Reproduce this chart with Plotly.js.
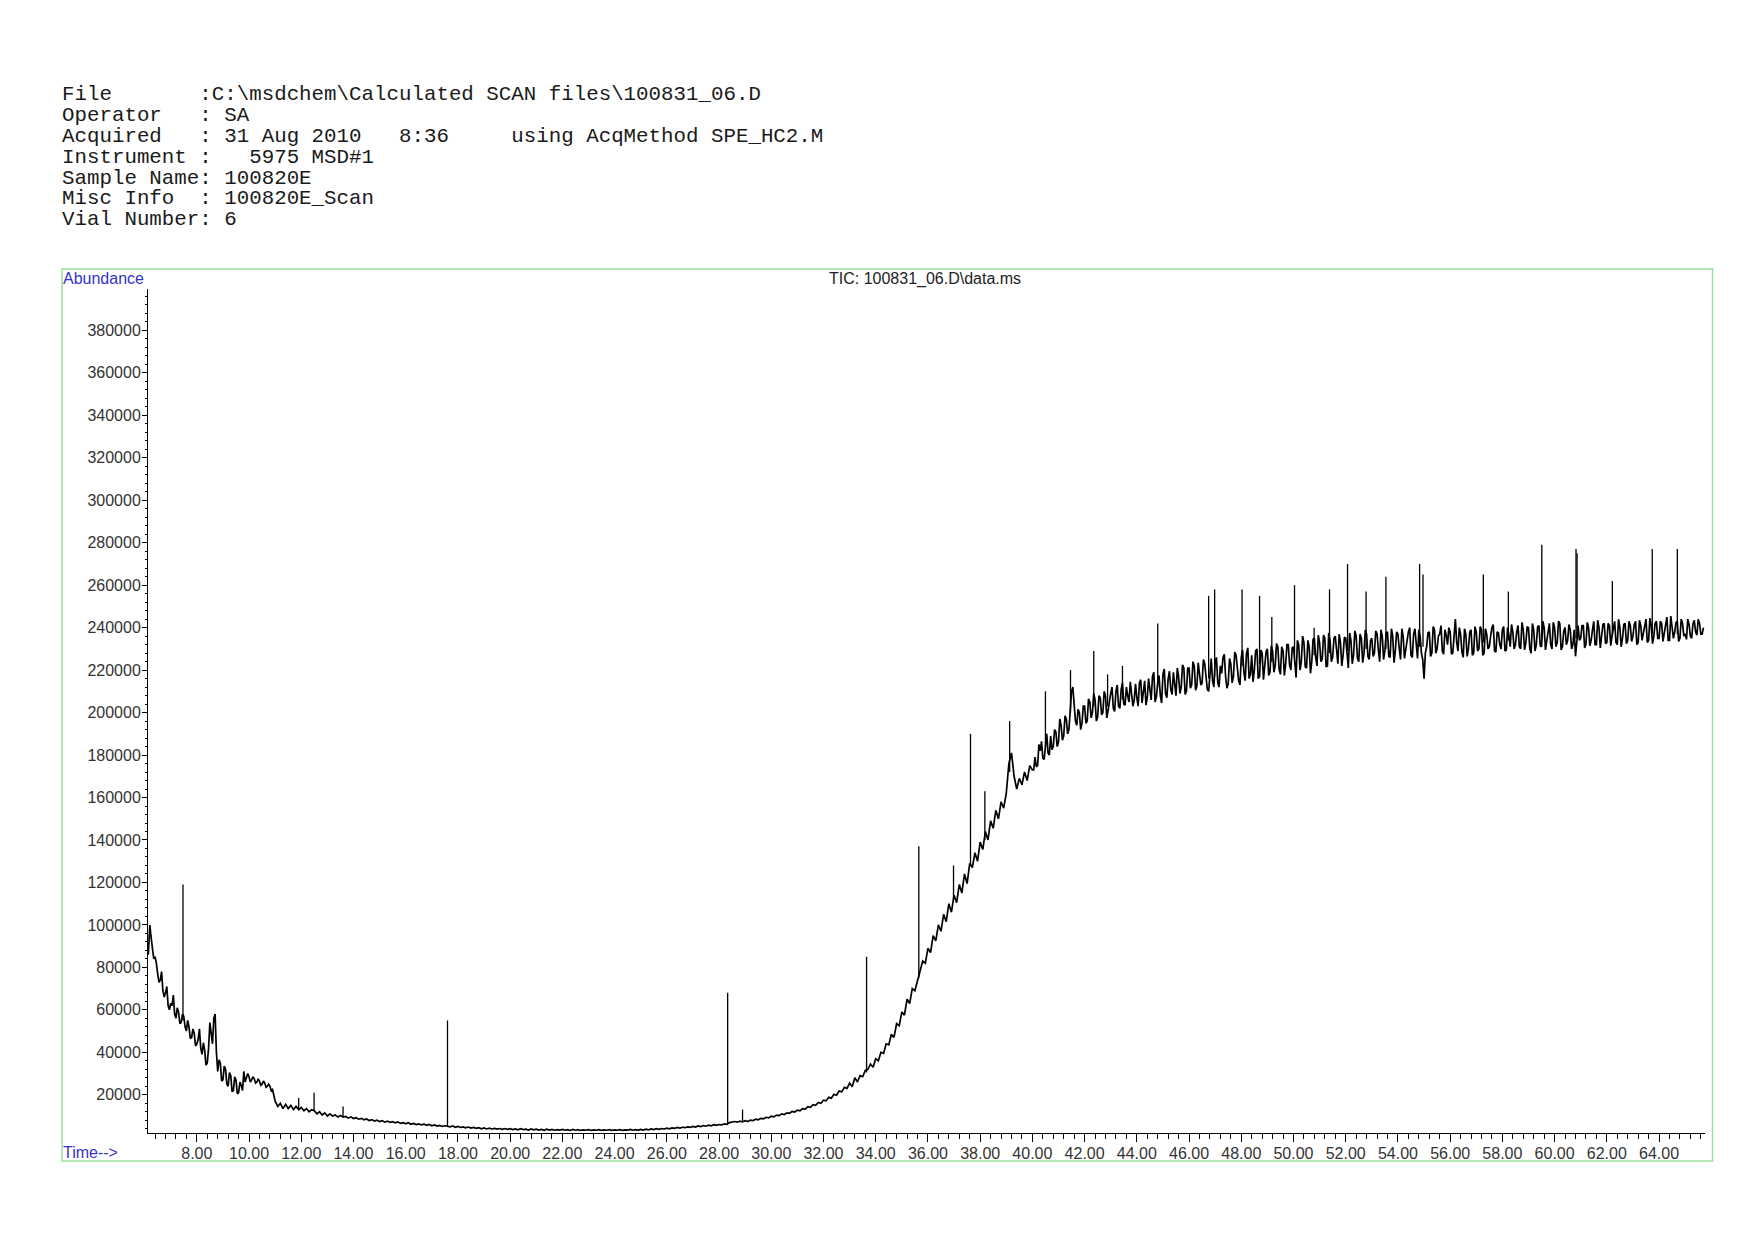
<!DOCTYPE html>
<html>
<head>
<meta charset="utf-8">
<script src="https://cdn.plot.ly/plotly-3.0.1.min.js"></script>
<style>html,body{margin:0;padding:0;background:#fff;}#chart{width:1754px;height:1240px;}</style>
</head>
<body>
<div id="chart"></div>
<script>
// ---------- header text ----------
const headerLines = [
  "File       :C:\\msdchem\\Calculated SCAN files\\100831_06.D",
  "Operator   : SA",
  "Acquired   : 31 Aug 2010   8:36     using AcqMethod SPE_HC2.M",
  "Instrument :   5975 MSD#1",
  "Sample Name: 100820E",
  "Misc Info  : 100820E_Scan",
  "Vial Number: 6"
];
const chartTitle = "TIC: 100831_06.D\\data.ms";
const yLabel = "Abundance";
const xLabel = "Time-->";

// ---------- TIC scans (time in min, abundance) ----------
const scanTimes = [
6.14,6.2,6.3,6.4,6.5,6.6,6.7,6.8,6.9,
7.0,7.1,7.2,7.3,7.4,7.5,7.6,7.7,7.8,7.9,
8.0,8.1,8.2,8.3,8.4,8.5,8.6,8.7,8.8,8.9,
9.0,9.1,9.2,9.3,9.4,9.5,9.6,9.7,9.8,9.9,
10.0,10.1,10.2,10.3,10.4,10.5,10.6,10.7,10.8,10.9,
11.0,11.1,11.2,11.3,11.4,11.5,11.6,11.7,11.8,11.9,
12.0,12.1,12.2,12.3,12.4,12.5,12.6,12.7,12.8,12.9,
13.0,13.1,13.2,13.3,13.4,13.5,13.6,13.7,13.8,13.9,
14.0,14.1,14.2,14.3,14.4,14.5,14.6,14.7,14.8,14.9,
15.0,15.1,15.2,15.3,15.4,15.5,15.6,15.7,15.8,15.9,
16.0,16.1,16.2,16.3,16.4,16.5,16.6,16.7,16.8,16.9,
17.0,17.1,17.2,17.3,17.4,17.5,17.6,17.7,17.8,17.9,
18.0,18.1,18.2,18.3,18.4,18.5,18.6,18.7,18.8,18.9,
19.0,19.1,19.2,19.3,19.4,19.5,19.6,19.7,19.8,19.9,
20.0,20.1,20.2,20.3,20.4,20.5,20.6,20.7,20.8,20.9,
21.0,21.1,21.2,21.3,21.4,21.5,21.6,21.7,21.8,21.9,
22.0,22.1,22.2,22.3,22.4,22.5,22.6,22.7,22.8,22.9,
23.0,23.1,23.2,23.3,23.4,23.5,23.6,23.7,23.8,23.9,
24.0,24.1,24.2,24.3,24.4,24.5,24.6,24.7,24.8,24.9,
25.0,25.1,25.2,25.3,25.4,25.5,25.6,25.7,25.8,25.9,
26.0,26.1,26.2,26.3,26.4,26.5,26.6,26.7,26.8,26.9,
27.0,27.1,27.2,27.3,27.4,27.5,27.6,27.7,27.8,27.9,
28.0,28.1,28.2,28.3,28.4,28.5,28.6,28.7,28.8,28.9,
29.0,29.1,29.2,29.3,29.4,29.5,29.6,29.7,29.8,29.9,
30.0,30.1,30.2,30.3,30.4,30.5,30.6,30.7,30.8,30.9,
31.0,31.1,31.2,31.3,31.4,31.5,31.6,31.7,31.8,31.9,
32.0,32.1,32.2,32.3,32.4,32.5,32.6,32.7,32.8,32.9,
33.0,33.1,33.2,33.3,33.4,33.5,33.6,33.7,33.8,33.9,
34.0,34.1,34.2,34.3,34.4,34.5,34.6,34.7,34.8,34.9,
35.0,35.1,35.2,35.3,35.4,35.5,35.6,35.7,35.8,35.9,
36.0,36.1,36.2,36.3,36.4,36.5,36.6,36.7,36.8,36.9,
37.0,37.1,37.2,37.3,37.4,37.5,37.6,37.7,37.8,37.9,
38.0,38.1,38.2,38.3,38.4,38.5,38.6,38.7,38.8,38.9,
39.0,39.1,39.2,39.3,39.4,39.5,39.6,39.7,39.8,39.9,
40.0,40.1,40.2,40.3,40.4,40.5,40.6,40.7,40.8,40.9,
41.0,41.1,41.2,41.3,41.4,41.5,41.6,41.7,41.8,41.9,
42.0,42.1,42.2,42.3,42.4,42.5,42.6,42.7,42.8,42.9,
43.0,43.1,43.2,43.3,43.4,43.5,43.6,43.7,43.8,43.9,
44.0,44.1,44.2,44.3,44.4,44.5,44.6,44.7,44.8,44.9,
45.0,45.1,45.2,45.3,45.4,45.5,45.6,45.7,45.8,45.9,
46.0,46.1,46.2,46.3,46.4,46.5,46.6,46.7,46.8,46.9,
47.0,47.1,47.2,47.3,47.4,47.5,47.6,47.7,47.8,47.9,
48.0,48.1,48.2,48.3,48.4,48.5,48.6,48.7,48.8,48.9,
49.0,49.1,49.2,49.3,49.4,49.5,49.6,49.7,49.8,49.9,
50.0,50.1,50.2,50.3,50.4,50.5,50.6,50.7,50.8,50.9,
51.0,51.1,51.2,51.3,51.4,51.5,51.6,51.7,51.8,51.9,
52.0,52.1,52.2,52.3,52.4,52.5,52.6,52.7,52.8,52.9,
53.0,53.1,53.2,53.3,53.4,53.5,53.6,53.7,53.8,53.9,
54.0,54.1,54.2,54.3,54.4,54.5,54.6,54.7,54.8,54.9,
55.0,55.1,55.2,55.3,55.4,55.5,55.6,55.7,55.8,55.9,
56.0,56.1,56.2,56.3,56.4,56.5,56.6,56.7,56.8,56.9,
57.0,57.1,57.2,57.3,57.4,57.5,57.6,57.7,57.8,57.9,
58.0,58.1,58.2,58.3,58.4,58.5,58.6,58.7,58.8,58.9,
59.0,59.1,59.2,59.3,59.4,59.5,59.6,59.7,59.8,59.9,
60.0,60.1,60.2,60.3,60.4,60.5,60.6,60.7,60.8,60.9,
61.0,61.1,61.2,61.3,61.4,61.5,61.6,61.7,61.8,61.9,
62.0,62.1,62.2,62.3,62.4,62.5,62.6,62.7,62.8,62.9,
63.0,63.1,63.2,63.3,63.4,63.5,63.6,63.7,63.8,63.9,
64.0,64.1,64.2,64.3,64.4,64.5,64.6,64.7,64.8,64.9,
65.0,65.1,65.2,65.3,65.4,65.5,65.6,65.7
];
const abundance = [
86000,100000,88000,85000,77000,74000,69000,68000,62000,
63000,67000,56000,59000,54000,57000,50000,52000,47000,49000,
44000,51000,39000,41000,35000,54000,44000,58000,31000,35000,
27000,32000,24000,29000,22000,27000,21000,24500,31000,28000,
28500,27000,27500,26000,26500,25000,25500,24000,24000,22500,
17000,14500,16000,13500,15500,13500,15000,13000,14500,13000,
14000,12500,13500,12000,13000,12500,11000,12000,10500,11500,
10000,11000,10000,10500,9500,10200,9500,9800,9000,9600,
8800,9200,8500,8900,8200,8600,7900,8300,7600,8000,
7400,7800,7100,7600,7000,7300,6800,7200,6600,6900,
6300,6800,6100,6500,6000,6300,5800,6200,5600,6000,
5400,5800,5300,5600,5100,5400,5200,4900,5300,4700,
5100,4600,4900,4400,4800,4300,4600,4200,4500,4000,
4400,3900,4300,3900,4200,3800,4100,3700,4100,3700,
4000,3600,3900,3500,4000,3600,3800,3400,3900,3500,
3800,3400,3700,3300,3800,3400,3700,3300,3600,3400,
3700,3300,3600,3200,3700,3300,3600,3200,3500,3300,
3600,3200,3500,3300,3600,3200,3500,3300,3600,3200,
3500,3300,3600,3200,3500,3400,3700,3300,3600,3400,
3700,3400,3800,3500,3900,3600,4000,3700,4100,3900,
4300,4000,4400,4200,4600,4300,4700,4500,4900,4700,
5100,4800,5300,5000,5500,5200,5700,5400,5900,5600,
6000,5800,6300,6100,6900,7000,7400,7100,7600,7200,
7800,7400,8100,7800,8500,8200,8900,8700,9400,9100,
9900,9600,10400,10200,11000,10700,11500,11300,12200,11900,
12800,12500,13500,13300,14400,14100,15300,15000,16400,16000,
17500,17200,18800,18400,20200,19800,21800,21400,23500,23000,
25500,23800,28000,26000,29000,28500,31500,32000,34500,33000,
37000,36000,40000,39500,44000,43500,48500,47000,53500,52500,
59000,57500,65000,63000,70000,69000,74000,78000,83000,82000,
89000,87000,95000,92500,100000,97000,105000,101500,110000,106000,
114000,110500,119000,115000,124000,119500,129000,127000,134000,130000,
139000,135500,144000,140000,149000,145500,154000,150000,158000,155000,
162000,176000,181000,170000,164000,169000,166000,172000,168000,175000,
173000,179000,175000,182000,178500,186000,181000,189000,184000,191000,
186000,194000,189000,197000,192000,210000,203000,194000,200000,195000,
203000,196000,205000,200000,206000,198000,207000,200000,208000,201000,
209000,202000,210000,203000,211000,204000,212000,205000,210000,206000,
207000,214000,204500,215000,207000,212000,217000,205000,214000,208000,
218000,209000,216000,211000,219000,208000,217000,212000,221000,210000,
221000,213000,222000,212500,219000,214000,223000,211000,220000,215000,
224000,214000,222000,226000,217000,213500,223000,217000,227000,215000,
226000,219000,228000,216000,227000,220000,230000,217000,228000,221000,
230000,219000,229000,222000,231000,218000,229000,223000,232000,220000,
231000,216500,232000,224000,233000,221000,231000,224000,235000,222000,
233000,225000,235000,222000,234000,226000,236000,223000,233000,227000,
235000,221000,234000,227000,236000,224000,235000,228000,237000,225000,
235000,228000,237000,224000,236000,229000,238000,226000,236000,229000,
237000,225000,236000,230000,238000,227000,237000,230000,239000,228000,
216000,231000,238000,228000,239000,230000,237000,229000,239000,232000,
238000,228000,244000,229000,237000,226000,237000,230000,239000,228000,
238000,230000,239000,228000,237000,231000,240000,229000,238000,232000,
239000,229000,240000,231000,238000,232000,241000,230000,239000,233000,
240000,228000,239000,232000,241000,231000,240000,233000,242000,230000,
240000,233000,242000,231000,240000,234000,239000,232000,226500,241000,
235000,241000,232000,240000,234000,243000,232000,240000,235000,242000,
233000,241000,236000,243000,232000,240000,235000,242000,234000,241000,
236000,243000,233000,241000,237000,244000,234000,241000,236000,243000,
235000,242000,237000,245000,234000,241000,238000,243000,235000,242000,
237000,244000,236000,242000,238000,244000,237000,240000
];

// interleaved scans in the noisy stretches (time in min, abundance)
const fineTimes = [
6.25,6.35,6.45,6.55,6.65,6.75,6.85,6.95,
7.05,7.15,7.25,7.35,7.45,7.55,7.65,7.75,7.85,7.95,
8.05,8.15,8.25,8.35,8.45,8.55,8.65,8.75,8.85,8.95,
9.05,9.15,9.25,9.35,9.45,9.55,9.65,9.75,9.85,9.95,
10.05,10.15,10.25,10.35,10.45,10.55,10.65,10.75,10.85,10.95,
40.05,40.15,40.25,40.35,40.45,40.55,40.65,40.75,40.85,40.95,
41.05,41.15,41.25,41.35,41.45,41.55,41.65,41.75,41.85,41.95,
42.05,42.15,42.25,42.35,42.45,42.55,42.65,42.75,42.85,42.95,
43.05,43.15,43.25,43.35,43.45,43.55,43.65,43.75,43.85,43.95,
44.05,44.15,44.25,44.35,44.45,44.55,44.65,44.75,44.85,44.95,
45.05,45.15,45.25,45.35,45.45,45.55,45.65,45.75,45.85,45.95,
46.05,46.15,46.25,46.35,46.45,46.55,46.65,46.75,46.85,46.95,
47.05,47.15,47.25,47.35,47.45,47.55,47.65,47.75,47.85,47.95,
48.05,48.15,48.25,48.35,48.45,48.55,48.65,48.75,48.85,48.95,
49.05,49.15,49.25,49.35,49.45,49.55,49.65,49.75,49.85,49.95,
50.05,50.15,50.25,50.35,50.45,50.55,50.65,50.75,50.85,50.95,
51.05,51.15,51.25,51.35,51.45,51.55,51.65,51.75,51.85,51.95,
52.05,52.15,52.25,52.35,52.45,52.55,52.65,52.75,52.85,52.95,
53.05,53.15,53.25,53.35,53.45,53.55,53.65,53.75,53.85,53.95,
54.05,54.15,54.25,54.35,54.45,54.55,54.65,54.75,54.85,54.95,
55.05,55.15,55.25,55.35,55.45,55.55,55.65,55.75,55.85,55.95,
56.05,56.15,56.25,56.35,56.45,56.55,56.65,56.75,56.85,56.95,
57.05,57.15,57.25,57.35,57.45,57.55,57.65,57.75,57.85,57.95,
58.05,58.15,58.25,58.35,58.45,58.55,58.65,58.75,58.85,58.95,
59.05,59.15,59.25,59.35,59.45,59.55,59.65,59.75,59.85,59.95,
60.05,60.15,60.25,60.35,60.45,60.55,60.65,60.75,60.85,60.95,
61.05,61.15,61.25,61.35,61.45,61.55,61.65,61.75,61.85,61.95,
62.05,62.15,62.25,62.35,62.45,62.55,62.65,62.75,62.85,62.95,
63.05,63.15,63.25,63.35,63.45,63.55,63.65,63.75,63.85,63.95,
64.05,64.15,64.25,64.35,64.45,64.55,64.65,64.75,64.85,64.95,
65.05,65.15,65.25,65.35,65.45,65.55,65.65
];
const fineAbundance = [
94000,84000,82000,73000,78000,66000,71000,60000,
62000,58000,61000,53500,58000,52000,55000,46500,51000,43000,
46000,42000,44500,34000,42000,47000,56000,40000,36500,26500,
33500,25000,30500,21500,28500,20500,26000,22000,26000,30000,
26000,28500,25500,27500,24500,26500,23500,25000,22000,20000,
173000,174500,185000,186500,178000,190000,180000,182500,192000,184000,
197000,187000,198500,190000,201000,212000,196000,201500,192000,203000,
195000,206500,197500,209000,196000,208000,199000,210000,197500,206000,
212000,200500,213000,202000,214000,203500,208000,214500,203000,213500,
203000,215500,210000,203500,216000,206000,219000,207500,217500,204500,
220500,207000,219500,208500,212000,221000,209000,222500,208500,221000,
211500,224000,210500,223500,213000,225000,218000,210000,225500,212000,
226000,212000,218500,227500,211500,225500,214000,228500,220000,213000,
229500,215000,230500,218000,214500,229000,216000,229500,215500,228500,
217500,231500,219000,232500,220500,231000,217500,232000,222500,230500,
225000,234000,220000,236000,221500,234000,218500,234500,226000,236500,
224000,236500,221500,237500,224000,235000,229500,237000,222000,235500,
228000,237500,223000,238500,225500,237000,223500,239000,226500,234000,
226500,238500,229500,239000,225000,237500,226500,239500,223500,238000,
230000,239500,225500,236000,240000,226000,239500,225500,236000,225000,
228000,237500,226500,240500,228000,236000,241000,227500,236500,240000,
227500,238500,233000,240000,228500,239500,226500,238000,227000,240500,
229000,240500,227000,239500,230000,236000,241500,228500,237500,230000,
240500,229500,236500,241500,230000,238000,231000,242500,229500,240500,
230000,242000,229000,240500,231500,243000,229500,238000,232000,242500,
231000,243000,229500,238500,232000,241500,230000,239000,233000,234000,
241000,230500,242500,231500,239000,232000,243500,230500,241500,232500,
242000,231500,239500,233000,244000,231000,241500,232500,243000,233500,
241500,232000,243500,234000,239500,233000,244500,232500,242000,235000,
243000,233500,240500,234000,245500,235000,242500,233500,244000,236000,
234500,241500,235000,243500,236500,242000,237000
];

// ---------- sharp peaks: retention time, apex, local baseline ----------
const peakTimes = [7.47,11.9,12.49,13.6,17.6,28.33,28.9,33.65,35.65,36.98,
  37.63,38.18,39.13,40.5,41.46,42.35,42.88,43.45,44.8,46.75,
  46.98,48.03,48.7,49.17,50.04,50.79,51.38,52.07,52.78,53.54,
  54.83,54.96,57.27,58.23,59.51,60.82,60.86,62.21,63.74,64.7];
const peakApex = [119000,18500,21000,14500,55000,68000,13000,85000,137000,128000,
  190000,163000,196000,210000,220000,229000,218000,222000,242000,255000,
  258000,258000,255000,245000,260000,240000,258000,270000,257000,264000,
  270000,265000,265000,257000,279000,277000,275000,262000,277000,277000];
const peakBase = [55000,13500,12500,9600,5200,6300,7300,30500,75000,112000,
  128000,140000,172000,184000,200000,203000,203000,206000,212000,216000,
  217000,222000,223000,224000,226000,227000,228000,229000,230000,230000,
  231000,231000,233000,234000,235000,235000,235000,236000,237000,237000];

// ---------- axis settings ----------
const xRange = [6.13, 65.76];
const yRange = [2000, 399500];

// ---------- geometry ----------
const W = 1754, H = 1240, ML = 148, MR = 49, MT = 289, MB = 107;
const plotW = W - ML - MR, plotH = H - MT - MB;
const px2x = px => (px - ML) / plotW;
const py2y = py => (H - MB - py) / plotH;

// merge regular and interleaved scans in time order
const scans = scanTimes.map((t, i) => [t, abundance[i]])
  .concat(fineTimes.map((t, i) => [t, fineAbundance[i]]))
  .sort((a, b) => a[0] - b[0]);
const ticX = scans.map(p => p[0]);
const ticY = scans.map(p => p[1]);

const peakX = [], peakY = [];
peakTimes.forEach((t, i) => { peakX.push(t, t, null); peakY.push(peakBase[i], peakApex[i], null); });

const traces = [
  {x: ticX, y: ticY, type: 'scatter', mode: 'lines',
   line: {color: '#000000', width: 1.7}, hoverinfo: 'skip'},
  {x: peakX, y: peakY, type: 'scatter', mode: 'lines',
   line: {color: '#000000', width: 1.3}, hoverinfo: 'skip', connectgaps: false}
];

const mono = 'Liberation Mono, Courier New, monospace';
const sans = 'Liberation Sans, Arial, sans-serif';
const annotations = headerLines.map((s, i) => ({
  text: s.replace(/ /g, '\u00a0'), xref: 'paper', yref: 'paper',
  x: px2x(60), y: py2y(94.5 + i * 20.9), xanchor: 'left', yanchor: 'middle',
  showarrow: false, font: {family: mono, size: 20.8, color: '#1a1a1a'}
}));
annotations.push(
  {text: yLabel, xref: 'paper', yref: 'paper', x: px2x(61), y: py2y(278),
   xanchor: 'left', yanchor: 'middle', showarrow: false,
   font: {family: sans, size: 16, color: '#3333cc'}},
  {text: xLabel.replace(/>/g, '&gt;'), xref: 'paper', yref: 'paper', x: px2x(61), y: py2y(1152),
   xanchor: 'left', yanchor: 'middle', showarrow: false,
   font: {family: sans, size: 16, color: '#3333cc'}},
  {text: chartTitle, xref: 'paper', yref: 'paper', x: px2x(925), y: py2y(279),
   xanchor: 'center', yanchor: 'middle', showarrow: false,
   font: {family: sans, size: 16, color: '#222222'}}
);

const layout = {
  width: W, height: H,
  margin: {l: ML, r: MR, t: MT, b: MB, pad: 0},
  paper_bgcolor: '#ffffff', plot_bgcolor: '#ffffff',
  showlegend: false, hovermode: false,
  font: {family: sans, size: 16, color: '#333333'},
  xaxis: {
    range: xRange, tickmode: 'linear', tick0: 0, dtick: 2, tickformat: '.2f',
    ticks: 'outside', ticklen: 8, tickwidth: 1, tickcolor: '#000', ticklabelstandoff: -2,
    showline: true, linecolor: '#000', linewidth: 1, mirror: false,
    showgrid: false, zeroline: false,
    tickfont: {family: sans, size: 16, color: '#333333'},
    minor: {dtick: 0.4, tick0: 0, ticks: 'outside', ticklen: 5, tickwidth: 1, tickcolor: '#000', showgrid: false}
  },
  yaxis: {
    range: yRange, tickmode: 'linear', tick0: 0, dtick: 20000, tickformat: 'd',
    ticks: 'outside', ticklen: 5, tickwidth: 1, tickcolor: '#000', ticklabelstandoff: -2,
    showline: true, linecolor: '#000', linewidth: 1, mirror: false,
    showgrid: false, zeroline: false,
    tickfont: {family: sans, size: 16, color: '#333333'},
    minor: {dtick: 4000, tick0: 0, ticks: 'outside', ticklen: 2, tickwidth: 1, tickcolor: '#000', showgrid: false}
  },
  shapes: [
    {type: 'rect', xref: 'paper', yref: 'paper',
     x0: px2x(62), x1: px2x(1712.5), y0: py2y(1161), y1: py2y(269),
     line: {color: '#99e399', width: 1.5}, fillcolor: 'rgba(0,0,0,0)', layer: 'below'}
  ],
  annotations: annotations
};

Plotly.newPlot('chart', traces, layout, {staticPlot: true, displayModeBar: false});
</script>
</body>
</html>
